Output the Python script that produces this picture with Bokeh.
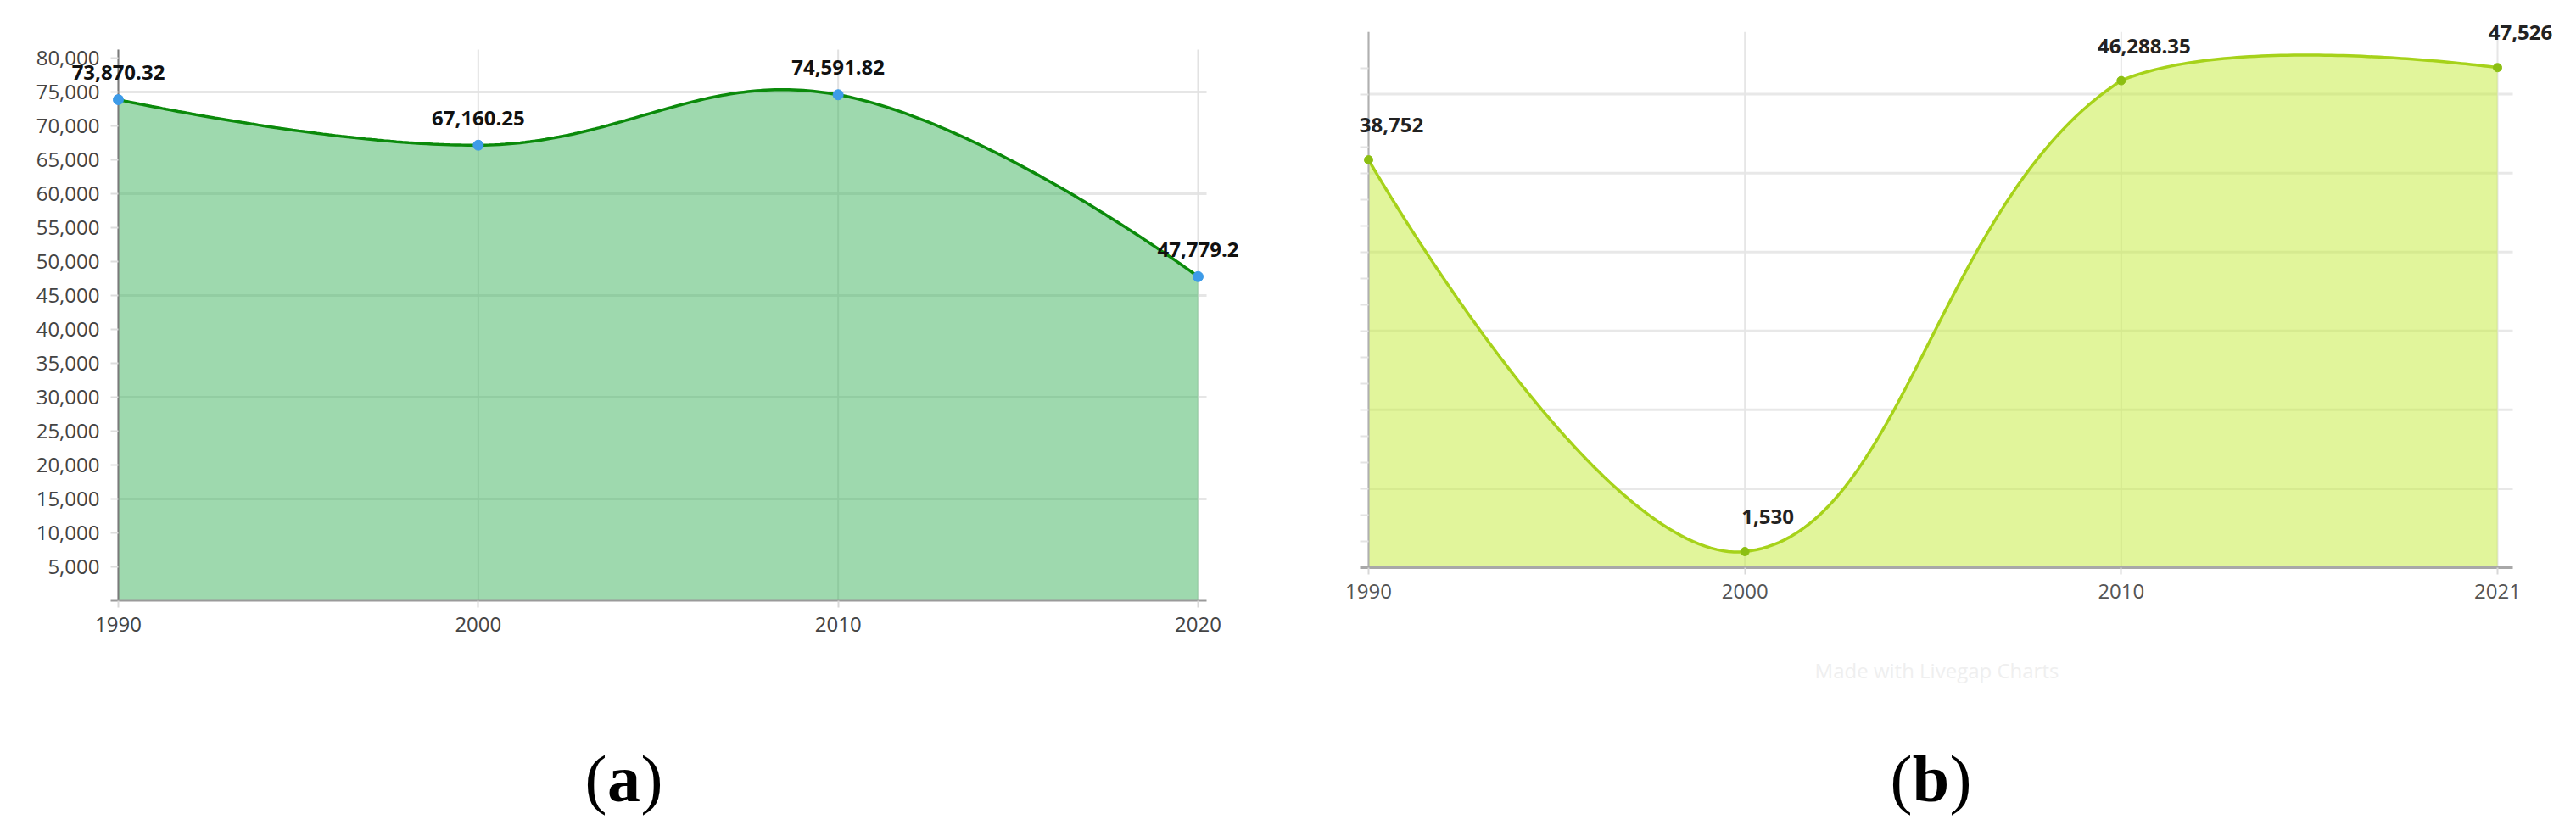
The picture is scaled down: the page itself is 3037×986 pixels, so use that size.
import math
import numpy as np
from bokeh.plotting import figure
from bokeh.models import (Range1d, FixedTicker, NumeralTickFormatter, LabelSet,
                          ColumnDataSource, LinearAxis)
from bokeh.embed import file_html
from bokeh.resources import INLINE
from bokeh.core.properties import value

# ---------------- data ----------------
years_a = ["1990", "2000", "2010", "2020"]
values_a = [73870.32, 67160.25, 74591.82, 47779.2]
years_b = ["1990", "2000", "2010", "2021"]
values_b = [38752, 1530, 46288.35, 47526]
yticks_a = list(range(5000, 80001, 5000))
ygrid_a = [15000, 30000, 45000, 60000, 75000]
yticks_b = list(range(2500, 47501, 2500))
ygrid_b = [7500, 15000, 22500, 30000, 37500, 45000]
captions = ["a", "b"]
watermark = "Made with Livegap Charts"

FONT = "Open Sans"


def chart_spline(vals, sx, sy, tension, lo, hi, n=80):
    """Chart.js (v1 style) bezier through the points, computed in pixel space."""
    P = [(i * sx, v * sy) for i, v in enumerate(vals)]
    m = len(P)
    inner, outer = [], []
    for i in range(m):
        x1, y1 = P[i]
        if i == 0 or i == m - 1:
            inner.append((x1, y1))
            outer.append((x1, y1))
            continue
        x0, y0 = P[i - 1]
        x2, y2 = P[i + 1]
        d01 = math.hypot(x1 - x0, y1 - y0)
        d12 = math.hypot(x2 - x1, y2 - y1)
        fa = tension * d01 / (d01 + d12)
        fb = tension * d12 / (d01 + d12)
        iy = min(max(y1 - fa * (y2 - y0), lo * sy), hi * sy)
        oy = min(max(y1 + fb * (y2 - y0), lo * sy), hi * sy)
        inner.append((x1 - fa * (x2 - x0), iy))
        outer.append((x1 + fb * (x2 - x0), oy))
    t = np.linspace(0, 1, n)[:, None]
    xs, ys = [], []
    for i in range(m - 1):
        p0 = np.array(P[i]); c1 = np.array(outer[i])
        c2 = np.array(inner[i + 1]); p3 = np.array(P[i + 1])
        b = (1 - t) ** 3 * p0 + 3 * (1 - t) ** 2 * t * c1 + 3 * (1 - t) * t ** 2 * c2 + t ** 3 * p3
        if i > 0:
            b = b[1:]
        xs.extend((b[:, 0] / sx).tolist())
        ys.extend((b[:, 1] / sy).tolist())
    return xs, ys


def fmt(v):
    return f"{v:,}"


# ---------------- canvas (screen pixel coordinates) ----------------
X0, X1, Y0, Y1 = 0, 3021, 0, 970
p = figure(width=X1 - X0, height=Y1 - Y0,
           x_range=Range1d(X0, X1), y_range=Range1d(Y1, Y0),
           output_backend="svg", toolbar_location=None,
           x_axis_type=None, y_axis_type=None,
           min_border_left=0, min_border_right=0, min_border_top=0, min_border_bottom=0)
p.outline_line_color = None
p.grid.visible = False
p.background_fill_color = "white"
p.border_fill_color = "white"


def add_panel(name, ox, oy, sx, sy):
    """Panel ranges: index 0 / value 0 sit at screen pixel (ox, oy)."""
    p.extra_x_ranges[name] = Range1d((X0 - ox) / sx, (X1 - ox) / sx)
    p.extra_y_ranges[name] = Range1d(-(Y1 - oy) / sy, (oy - Y0) / sy)
    return dict(x_range_name=name, y_range_name=name)


def make_axis(rng, side, ticker, color, tick_color, tick_out, standoff, size="24px"):
    ax = LinearAxis(fixed_location=0, ticker=ticker, **rng)
    ax.axis_line_color = None
    ax.major_tick_in = 0
    ax.major_tick_out = tick_out
    ax.major_tick_line_color = tick_color
    ax.major_tick_line_width = 2
    ax.minor_tick_line_color = None
    ax.major_label_standoff = standoff
    ax.major_label_text_font = FONT
    ax.major_label_text_font_size = size
    ax.major_label_text_color = color
    p.add_layout(ax, side)
    return ax


# ---------------- panel (a) ----------------
SX_A = (1412 - 139) / 3
Y_AXIS_TOP_A = 81250
SY_A = 650 / Y_AXIS_TOP_A
idx_a = list(range(len(years_a)))
PAD_L_A, PAD_R_A = 9 / SX_A, 10 / SX_A
ra = add_panel("a", 139, 708, SX_A, SY_A)

p.segment(x0=[0] * len(ygrid_a), y0=ygrid_a, x1=[3 + PAD_R_A] * len(ygrid_a), y1=ygrid_a,
          line_color="#e6e6e6", line_width=3, **ra)
p.segment(x0=idx_a, y0=[0] * len(idx_a), x1=idx_a, y1=[Y_AXIS_TOP_A] * len(idx_a),
          line_color="#e2e2e2", line_width=2, **ra)
xs_a, ys_a = chart_spline(values_a, SX_A, SY_A, 0.4, 0, Y_AXIS_TOP_A)
p.varea(x=xs_a, y1=0, y2=ys_a, fill_color="#3db35d", fill_alpha=0.5, **ra)
p.segment(x0=[0], y0=[0], x1=[0], y1=[Y_AXIS_TOP_A], line_color="#7a7a7a", line_width=2, **ra)
p.segment(x0=[-PAD_L_A], y0=[0], x1=[3 + PAD_R_A], y1=[0], line_color="#9a9a9a", line_width=2, **ra)
p.line(xs_a, ys_a, line_color="#0b8a0b", line_width=3.5, **ra)
p.scatter(idx_a, values_a, size=12, fill_color="#3d9be8", line_color="#3d9be8", **ra)

src_a = ColumnDataSource(dict(x=idx_a, y=values_a, t=[fmt(v) for v in values_a]))
p.add_layout(LabelSet(x="x", y="y", text="t", source=src_a, text_align="center",
                      text_baseline="middle", y_offset=32, text_font=value(FONT),
                      text_font_style="bold", text_font_size="24px", text_color="#111111", **ra))

xa = make_axis(ra, "below", FixedTicker(ticks=idx_a), "#444444", "#d8d8d8", 8, 11)
xa.major_label_overrides = {i: y for i, y in enumerate(years_a)}
ya = make_axis(ra, "left", FixedTicker(ticks=yticks_a), "#444444", "#dddddd", 9, 13)
ya.formatter = NumeralTickFormatter(format="0,0")

# ---------------- panel (b) ----------------
SX_B = (2944 - 1613) / 3
Y_AXIS_TOP_B = 50900
SY_B = 649 / 52300
idx_b = list(range(len(years_b)))
PAD_L_B, PAD_R_B = 10 / SX_B, 18 / SX_B
rb = add_panel("b", 1613, 669, SX_B, SY_B)

p.segment(x0=[0] * len(ygrid_b), y0=ygrid_b, x1=[3 + PAD_R_B] * len(ygrid_b), y1=ygrid_b,
          line_color="#e8e8e8", line_width=3, **rb)
p.segment(x0=idx_b, y0=[0] * len(idx_b), x1=idx_b, y1=[Y_AXIS_TOP_B] * len(idx_b),
          line_color="#e6e6e6", line_width=2, **rb)
xs_b, ys_b = chart_spline(values_b, SX_B, SY_B, 0.4, 0, Y_AXIS_TOP_B)
p.varea(x=xs_b, y1=0, y2=ys_b, fill_color="#c3ec38", fill_alpha=0.5, **rb)
p.segment(x0=[0], y0=[0], x1=[0], y1=[Y_AXIS_TOP_B], line_color="#b0b0b0", line_width=2, **rb)
p.segment(x0=[-PAD_L_B], y0=[0], x1=[3 + PAD_R_B], y1=[0], line_color="#a8a8a8", line_width=3, **rb)
p.line(xs_b, ys_b, line_color="#a6d21a", line_width=3.5, **rb)
p.scatter(idx_b, values_b, size=10, fill_color="#8cbf12", line_color="#8cbf12", **rb)

src_b = ColumnDataSource(dict(x=idx_b, y=values_b, t=[fmt(v) for v in values_b]))
p.add_layout(LabelSet(x="x", y="y", text="t", source=src_b, text_align="center",
                      text_baseline="middle", x_offset=27, y_offset=41, text_font=value(FONT),
                      text_font_style="bold", text_font_size="24px", text_color="#222222", **rb))

xb = make_axis(rb, "below", FixedTicker(ticks=idx_b), "#555555", "#d8d8d8", 8, 11)
xb.major_label_overrides = {i: y for i, y in enumerate(years_b)}
yb = make_axis(rb, "left", FixedTicker(ticks=yticks_b), None, "#e3e3e3", 10, 4, size="0px")

# ---------------- captions (screen coordinates) ----------------
SERIF = value("Liberation Serif")
cap_x = [735, 2276]
half_w = [20, 22]
CAP_Y = 918
for cx, hw, letter in zip(cap_x, half_w, captions):
    p.text(x=[cx - hw], y=[CAP_Y], text=["("], text_align="right", text_baseline="middle",
           text_font=SERIF, text_font_size="78px", text_color="black")
    p.text(x=[cx], y=[CAP_Y], text=[letter], text_align="center", text_baseline="middle",
           text_font=SERIF, text_font_style="bold", text_font_size="78px", text_color="black")
    p.text(x=[cx + hw], y=[CAP_Y], text=[")"], text_align="left", text_baseline="middle",
           text_font=SERIF, text_font_size="78px", text_color="black")
p.text(x=[2283], y=[790], text=[watermark], text_align="center", text_baseline="middle",
       text_font=value(FONT), text_font_size="24px", text_color="#efefef")

open("out.html", "w").write(file_html(p, INLINE))
